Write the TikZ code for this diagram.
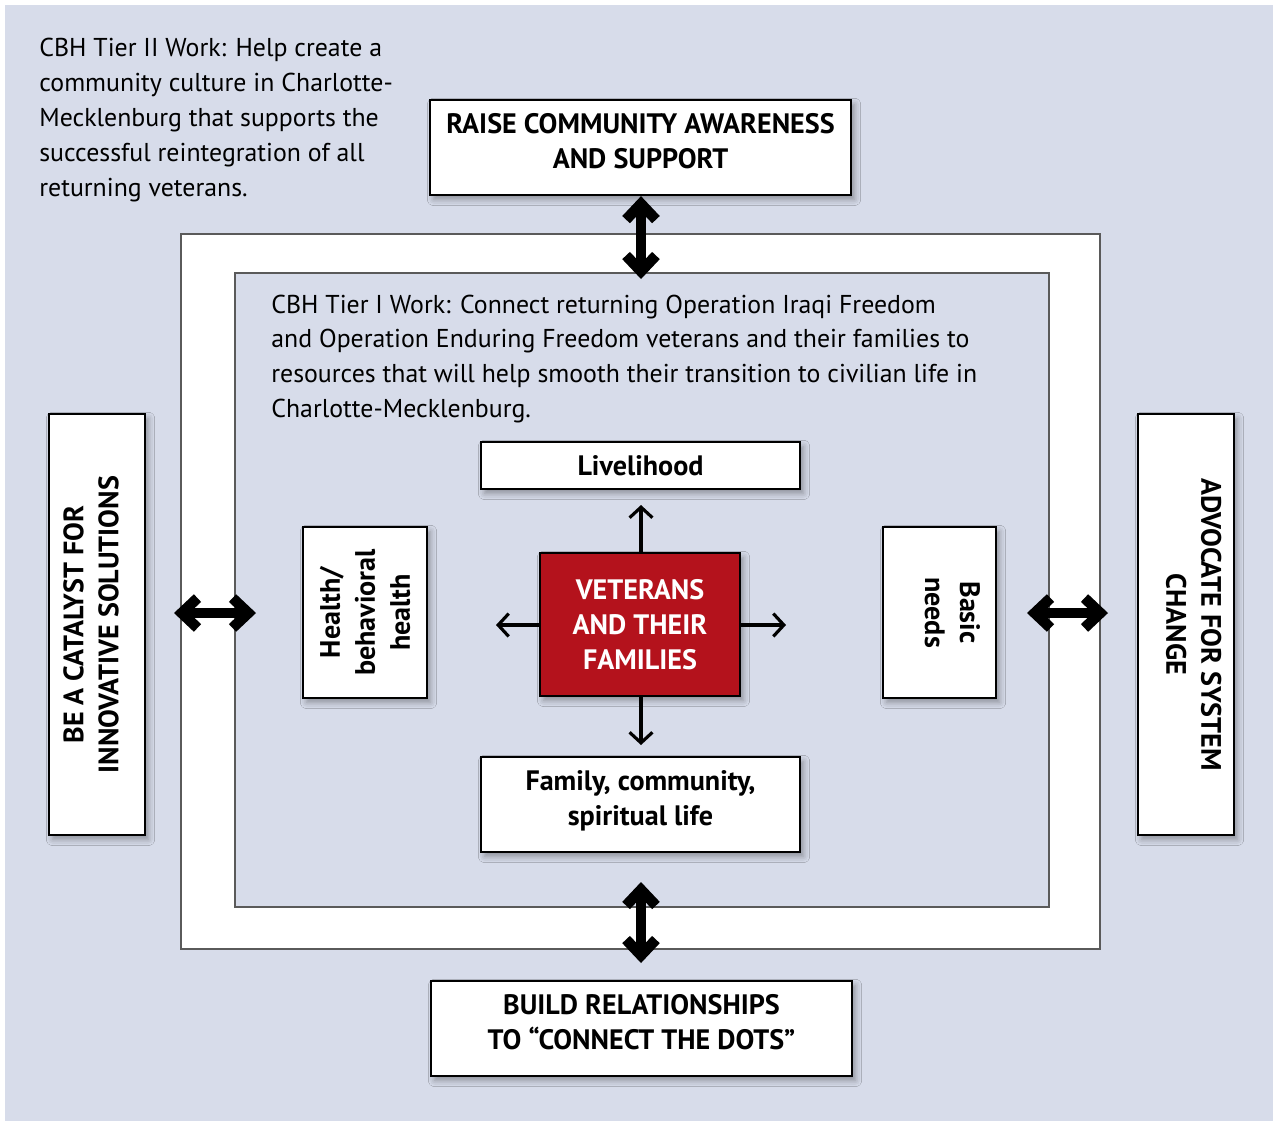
\documentclass[tikz,border=0pt]{standalone}
\usepackage{fontspec}
\setmainfont{PT Sans}
\usepackage{xcolor}
\usepackage{tikz}
\usetikzlibrary{positioning, arrows.meta, shadows.blur}

\definecolor{bgblue}{RGB}{215,220,234}
\definecolor{vetred}{RGB}{180,18,28}
\definecolor{framegray}{RGB}{90,90,90}

\tikzset{
    txt/.style={font=\fontsize{14.7}{19.9}\selectfont, inner sep=0pt, align=left},
    box/.style={draw=black, line width=1.3pt, fill=white, align=center,
        font=\bfseries\fontsize{16}{19.9}\selectfont,
        blur shadow={shadow xshift=2pt, shadow yshift=-2.5pt, shadow opacity=35, shadow blur radius=3.5pt}},
    redbox/.style={box, fill=vetred, text=white},
    lift/.style={execute at end node={\rule[-#1]{0pt}{0pt}}},
    frame/.style={draw=framegray, line width=0.6pt},
    bigarrow/.style={line width=6pt, {Straight Barb[length=9pt, width=17pt]}-{Straight Barb[length=9pt, width=17pt]}},
    smallarrow/.style={line width=1.8pt, -{Straight Barb[length=6pt, width=13pt]}}
}

\begin{document}
\begin{tikzpicture}[x=0.02cm, y=-0.02cm]
    \useasboundingbox (0,0) rectangle (1273,1120);
    \fill[bgblue] (5,5) rectangle (1290,1140);
    \draw[frame, fill=white] (181,234) rectangle (1100,949);
    \draw[frame, fill=bgblue] (235,273) rectangle (1049,907);

    \node[txt, anchor=west](tier2) at (39,120) {CBH Tier II Work: Help create a\\community culture in Charlotte-\\Mecklenburg that supports the\\successful reintegration of all\\returning veterans.};
    \node[txt, anchor=west](tier1) at (271,359) {CBH Tier I Work: Connect returning Operation Iraqi Freedom\\and Operation Enduring Freedom veterans and their families to\\resources that will help smooth their transition to civilian life in\\Charlotte-Mecklenburg.};

    \node[box, lift=7pt, minimum width=8.42cm, minimum height=1.9cm](box_top) at (640.5,147.5) {RAISE COMMUNITY AWARENESS\\AND SUPPORT};
    \node[box, lift=7pt, minimum width=8.42cm, minimum height=1.9cm](box_bottom) at (641.5,1028.5) {BUILD RELATIONSHIPS\\TO “CONNECT THE DOTS”};
    \node[box, lift=7pt, rotate=90, minimum width=8.42cm, minimum height=1.92cm](box_left) at (97,624.5) {BE A CATALYST FOR\\INNOVATIVE SOLUTIONS};
    \node[box, lift=9pt, rotate=-90, minimum width=8.42cm, minimum height=1.92cm](box_right) at (1186,624.5) {ADVOCATE FOR SYSTEM\\CHANGE};

    \node[box, minimum width=6.38cm, minimum height=0.94cm](box_live) at (640.5,465.5) {Livelihood};
    \node[box, lift=7pt, minimum width=6.38cm, minimum height=1.9cm](box_family) at (640.5,804.5) {Family, community,\\spiritual life};
    \node[box, rotate=90, minimum width=3.42cm, minimum height=2.48cm](box_health) at (365,612.5) {Health/\\behavioral\\health};
    \node[box, lift=15pt, rotate=-90, minimum width=3.42cm, minimum height=2.26cm](box_basic) at (939.5,612.5) {Basic\\needs};
    \node[redbox, minimum width=4cm, minimum height=2.86cm](box_vets) at (640,624.5) {VETERANS\\AND THEIR\\FAMILIES};

    \coordinate(top_end) at (641,279);
    \coordinate(bot_start) at (641,882);
    \coordinate(bot_end) at (641,963);
    \coordinate(left_start) at (174,613);
    \coordinate(left_end) at (256,613);
    \coordinate(right_start) at (1027,613);
    \coordinate(right_end) at (1108,613);
    \coordinate(up_end) at (641,505);
    \coordinate(down_end) at (641,745);
    \coordinate(west_end) at (496,625);
    \coordinate(east_end) at (786,625);

    \draw[bigarrow] (box_top.south -| top_end) -- (top_end);
    \draw[bigarrow] (bot_start) -- (bot_end);
    \draw[bigarrow] (left_start) -- (left_end);
    \draw[bigarrow] (right_start) -- (right_end);

    \draw[smallarrow] (box_vets.north -| up_end) -- (up_end);
    \draw[smallarrow] (box_vets.south -| down_end) -- (down_end);
    \draw[smallarrow] (box_vets.west |- west_end) -- (west_end);
    \draw[smallarrow] (box_vets.east |- east_end) -- (east_end);
\end{tikzpicture}
\end{document}
